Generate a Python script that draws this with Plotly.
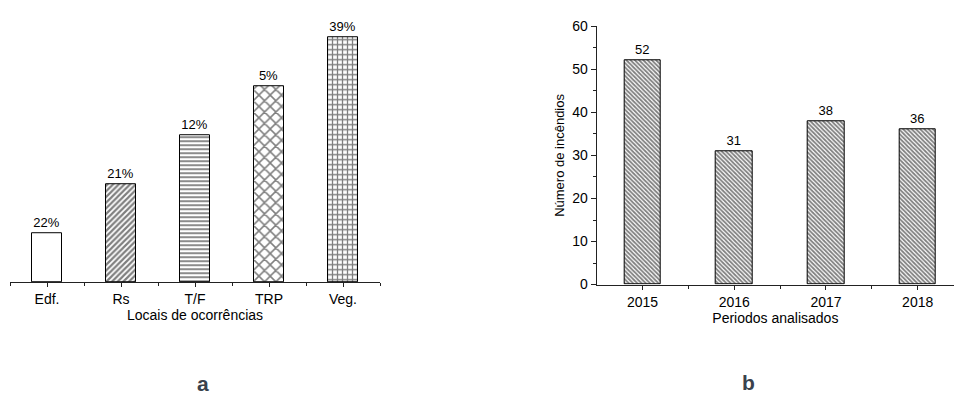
import plotly.graph_objects as go

# ---- data ----
locais = ["Edf.", "Rs", "T/F", "TRP", "Veg."]
locais_valores = [1, 2, 3, 4, 5]
locais_rotulos = ["22%", "21%", "12%", "5%", "39%"]

periodos = ["2015", "2016", "2017", "2018"]
incendios = [52, 31, 38, 36]

W, H = 955, 414
FONT = "Arial, Liberation Sans, sans-serif"
AX = "#222222"

fig = go.Figure()

# left panel: one trace per bar (different hatch patterns)
patterns = [
    dict(shape="", fillmode="overlay"),
    dict(shape="/", size=4, solidity=0.55, fgcolor="black", bgcolor="white", fillmode="overlay"),
    dict(shape="-", size=4, solidity=0.45, fgcolor="black", bgcolor="white", fillmode="overlay"),
    dict(shape="x", size=8, solidity=0.35, fgcolor="black", bgcolor="white", fillmode="overlay"),
    dict(shape="+", size=5, solidity=0.45, fgcolor="black", bgcolor="white", fillmode="overlay"),
]
for i, (cat, v, lab) in enumerate(zip(locais, locais_valores, locais_rotulos)):
    fig.add_trace(go.Bar(
        x=[i], y=[v], width=0.4, text=[lab], textposition="outside",
        textfont=dict(family=FONT, size=13, color="black"), cliponaxis=False,
        marker=dict(color="white", line=dict(color="black", width=1), pattern=patterns[i]),
        xaxis="x", yaxis="y", showlegend=False, name=cat,
    ))

# right panel
fig.add_trace(go.Bar(
    x=list(range(len(periodos))), y=incendios, width=0.4,
    text=[str(v) for v in incendios], textposition="outside",
    textfont=dict(family=FONT, size=13, color="black"), cliponaxis=False,
    marker=dict(color="white", line=dict(color="black", width=1),
                pattern=dict(shape="\\", size=3, solidity=0.6, fgcolor="black",
                             bgcolor="white", fillmode="overlay")),
    xaxis="x2", yaxis="y2", showlegend=False,
))

fig.update_layout(
    width=W, height=H, margin=dict(l=0, r=0, t=0, b=0),
    paper_bgcolor="white", plot_bgcolor="white",
    font=dict(family=FONT, size=14, color="black"),
    bargap=0,
    xaxis=dict(
        domain=[10 / W, 380 / W], range=[-0.5, 4.5],
        tickmode="array", tickvals=list(range(len(locais))), ticktext=locais,
        showline=True, linecolor=AX, linewidth=1.3, ticks="outside", ticklen=4,
        tickcolor=AX, showgrid=False, zeroline=False,
        tickfont=dict(size=14),
        minor=dict(tickmode="array", tickvals=[i - 0.5 for i in range(len(locais) + 1)],
                   ticks="outside", ticklen=3, tickcolor=AX, showgrid=False),
        title=dict(text="Locais de ocorrências", font=dict(size=14), standoff=2),
        anchor="y",
    ),
    yaxis=dict(
        domain=[(H - 285) / H, (H - 20) / H], range=[0, 265 / 51],
        visible=False, anchor="x",
    ),
    xaxis2=dict(
        domain=[596.7 / W, 954 / W], range=[-0.5, 3.396],
        tickmode="array", tickvals=list(range(len(periodos))), ticktext=periodos,
        showline=True, linecolor=AX, linewidth=1.3, ticks="outside", ticklen=4,
        tickcolor=AX, showgrid=False, zeroline=False,
        tickfont=dict(size=14),
        minor=dict(tickmode="array", tickvals=[0.5, 1.5, 2.5],
                   ticks="outside", ticklen=3, tickcolor=AX, showgrid=False),
        title=dict(text="Periodos analisados", font=dict(size=14), standoff=3),
        anchor="y2",
    ),
    yaxis2=dict(
        domain=[(H - 287.7) / H, (H - 19) / H], range=[0, 60],
        tickmode="linear", tick0=0, dtick=10,
        showline=True, linecolor=AX, linewidth=1.3, ticks="outside", ticklen=5,
        tickcolor=AX, showgrid=False, zeroline=False,
        tickfont=dict(size=14),
        minor=dict(dtick=5, tick0=0, ticks="outside", ticklen=3, tickcolor=AX, showgrid=False),
        title=dict(text="Número de incêndios", font=dict(size=13), standoff=4),
        anchor="x2",
    ),
    annotations=[
        dict(text="<b>a</b>", x=195 / W, y=(H - 405) / H, xref="paper", yref="paper",
             showarrow=False, font=dict(size=21, family=FONT, color="#3a424c")),
        dict(text="<b>b</b>", x=757 / W, y=(H - 404) / H, xref="paper", yref="paper",
             showarrow=False, font=dict(size=21, family=FONT, color="#3a424c")),
    ],
)

fig.write_html("out.html")
